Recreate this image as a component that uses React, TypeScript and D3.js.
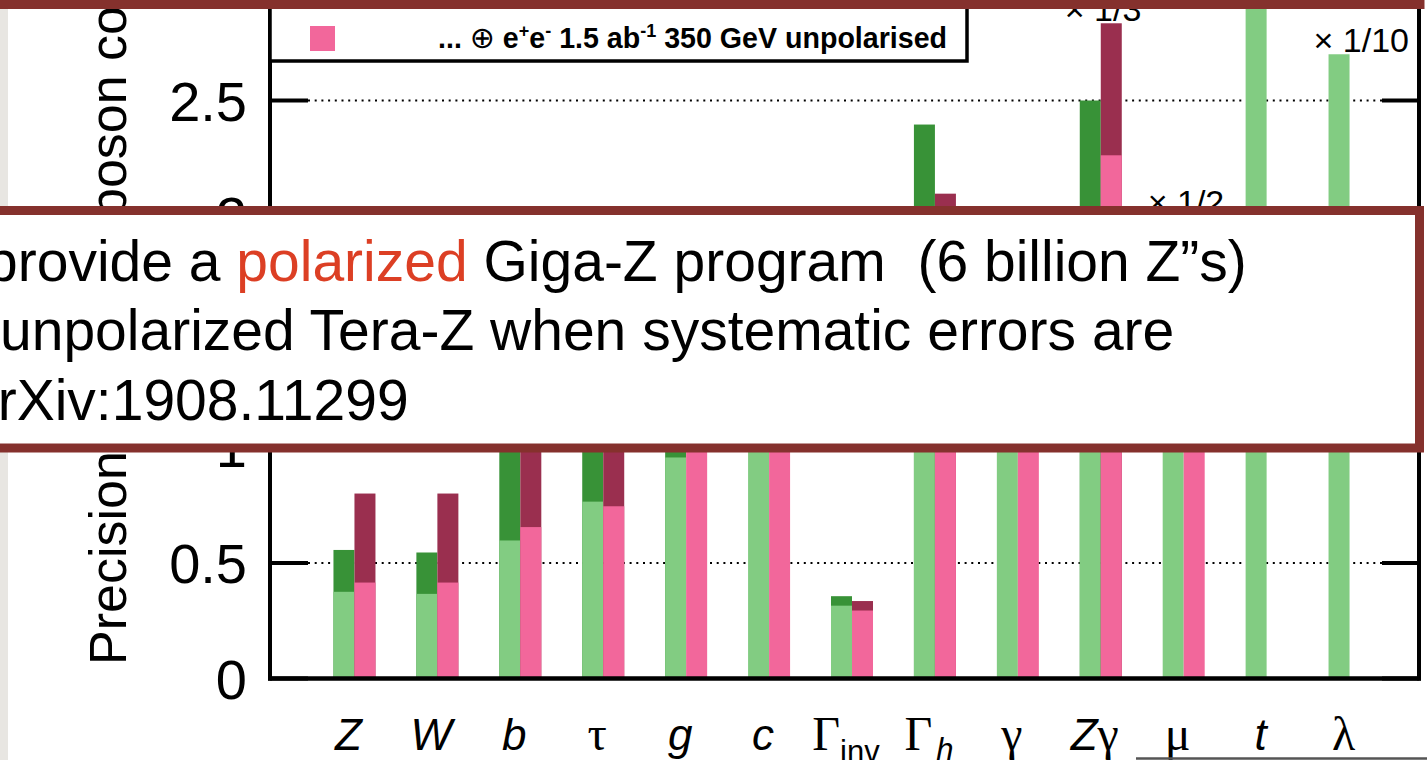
import React, { useEffect } from 'react';
import * as d3 from 'd3';

// ---------- data ----------
const categories = ['Z', 'W', 'b', 'tau', 'g', 'c', 'Ginv', 'Gh', 'gamma', 'Zgamma', 'mu', 't', 'lambda'];
// green series: statistical part (light) and total incl. systematics (dark)
const greenLight = [0.375, 0.366, 0.597, 0.765, 0.956, 1.3, 0.315, 1.6, 1.5, 1.8, 1.9, 3.2, 2.7];
const greenTotal = [0.556, 0.545, 1.35, 1.25, 1.05, null, 0.356, 2.396, null, 2.5, null, null, null];
// pink series
const pinkLight = [0.415, 0.415, 0.655, 0.745, 1.15, 1.45, 0.294, 1.7, 1.6, 2.263, 2.0, null, null];
const pinkTotal = [0.8, 0.8, 1.45, 1.35, null, null, 0.335, 2.097, null, 2.834, null, null, null];
const yTicks = [0, 0.5, 1, 1.5, 2, 2.5, 3];
const yTickLabels = ['0', '0.5', '1', '1.5', '2', '2.5', '3'];
const scaleNotes = [
  { cat: 'Zgamma', text: '× 1/3' },
  { cat: 'mu', text: '× 1/2' },
  { cat: 'lambda', text: '× 1/10' },
];
const yTitle = 'Precision on Higgs boson couplings (%)';
const legendLabel = { pre: '... ', oplus: '⊕', e1: ' e', s1: '+', e2: 'e', s2: '-', mid: ' 1.5 ab', s3: '-1', post: ' 350 GeV unpolarised' };
const boxLines = [
  { parts: [{ t: 'provide a ' }, { t: 'polarized', red: true }, { t: ' Giga-Z program  (6 billion Z”s)' }] },
  { parts: [{ t: 'unpolarized Tera-Z when systematic errors are' }] },
  { parts: [{ t: 'arXiv:1908.11299' }] },
];

// ---------- styles ----------
const C = {
  lightGreen: '#82cc82',
  darkGreen: '#389237',
  pink: '#f2679b',
  maroon: '#9a2f4f',
  frame: '#85312d',
  red: '#dc3f24',
  paper: '#e8e6e2',
};
const SANS = "'Liberation Sans', Arial, Helvetica, sans-serif";
const SERIF = "'Liberation Serif', 'Times New Roman', serif";

const W = 1427;
const H = 760;

function XLabel({ cat, x }: { cat: string; x: number }) {
  const y = 750;
  const it = { fontFamily: SANS, fontStyle: 'italic' as const, fontSize: 44 };
  const gr = { fontFamily: SERIF, fontSize: 48 };
  switch (cat) {
    case 'Z': return <text x={x} y={y} textAnchor="middle" {...it}>Z</text>;
    case 'W': return <text x={x} y={y} textAnchor="middle" {...it}>W</text>;
    case 'b': return <text x={x} y={y} textAnchor="middle" {...it}>b</text>;
    case 'tau': return <text x={x} y={y} textAnchor="middle" {...gr}>τ</text>;
    case 'g': return <text x={x} y={y} textAnchor="middle" {...it}>g</text>;
    case 'c': return <text x={x} y={y} textAnchor="middle" {...it}>c</text>;
    case 'Ginv':
      return (
        <text x={x} y={y} textAnchor="middle" {...gr}>
          Γ<tspan fontFamily={SANS} fontSize={31} dy={12}>inv</tspan>
        </text>
      );
    case 'Gh':
      return (
        <text x={x} y={y} textAnchor="middle" {...gr}>
          Γ<tspan fontFamily={SANS} fontStyle="italic" fontSize={31} dx={4} dy={10}>h</tspan>
        </text>
      );
    case 'gamma': return <text x={x} y={y} textAnchor="middle" {...gr}>γ</text>;
    case 'Zgamma':
      return (
        <text x={x} y={y} textAnchor="middle" {...it}>
          Z<tspan fontFamily={SERIF} fontStyle="normal" fontSize={48}>γ</tspan>
        </text>
      );
    case 'mu': return <text x={x} y={y} textAnchor="middle" {...gr}>μ</text>;
    case 't': return <text x={x} y={y} textAnchor="middle" {...it}>t</text>;
    case 'lambda': return <text x={x} y={y} textAnchor="middle" {...gr}>λ</text>;
    default: return null;
  }
}

export default function App() {
  useEffect(() => {
    document.body.style.margin = '0';
    document.body.style.overflow = 'hidden';
  }, []);

  const x = d3.scaleBand<string>().domain(categories).range([313, 1391]).padding(0);
  const y = d3.scaleLinear().domain([0, 2.5]).range([678.5, 100.5]);
  const center = (c: string) => (x(c) as number) + x.bandwidth() / 2;
  const barW = 21;
  const axL = 270;
  const axR = 1419;
  const axB = y(0);

  return (
    <svg width={W} height={H} style={{ position: 'absolute', left: 0, top: 0, display: 'block', background: '#fff' }}>
      <rect x={0} y={0} width={W} height={H} fill="#fff" />

      {/* dotted grid */}
      {yTicks.filter((t) => t > 0).map((t) => (
        <line key={'g' + t} x1={axL + 38} x2={axR - 37} y1={y(t)} y2={y(t)}
          stroke="#000" strokeWidth={2} strokeDasharray="2 4.7" />
      ))}

      {/* bars */}
      {categories.map((c, i) => {
        const cx = center(c);
        const els: React.ReactNode[] = [];
        const gT = greenTotal[i];
        if (gT != null) els.push(<rect key="gd" x={cx - barW} width={barW} y={y(gT)} height={axB - y(gT)} fill={C.darkGreen} />);
        const gL = greenLight[i];
        if (gL != null) els.push(<rect key="gl" x={cx - barW} width={barW} y={y(gL)} height={axB - y(gL)} fill={C.lightGreen} />);
        const pT = pinkTotal[i];
        if (pT != null) els.push(<rect key="pd" x={cx} width={barW} y={y(pT)} height={axB - y(pT)} fill={C.maroon} />);
        const pL = pinkLight[i];
        if (pL != null) els.push(<rect key="pl" x={cx} width={barW} y={y(pL)} height={axB - y(pL)} fill={C.pink} />);
        return <g key={c}>{els}</g>;
      })}

      {/* scale notes */}
      {scaleNotes.map((n) => {
        const i = categories.indexOf(n.cat);
        const top = Math.max(
          greenLight[i] ?? 0, greenTotal[i] ?? 0, pinkLight[i] ?? 0, pinkTotal[i] ?? 0
        );
        return (
          <text key={n.cat} x={center(n.cat) - 36} y={y(top) - 2} fontFamily={SANS} fontSize={34}>{n.text}</text>
        );
      })}

      {/* frame */}
      <line x1={axL} x2={axL} y1={-5} y2={axB + 2} stroke="#000" strokeWidth={4} />
      <line x1={axR} x2={axR} y1={-5} y2={axB + 2} stroke="#000" strokeWidth={4} />
      <line x1={axL - 2} x2={axR + 2} y1={axB} y2={axB} stroke="#000" strokeWidth={4.5} />
      {yTicks.map((t) => (
        <g key={'t' + t}>
          <line x1={axL} x2={axL + 38} y1={y(t)} y2={y(t)} stroke="#000" strokeWidth={4} />
          <line x1={axR - 37} x2={axR} y1={y(t)} y2={y(t)} stroke="#000" strokeWidth={4} />
        </g>
      ))}
      {yTicks.map((t, i) => (
        <text key={'l' + t} x={247} y={y(t) + 20} textAnchor="end" fontFamily={SANS} fontSize={56}>{yTickLabels[i]}</text>
      ))}

      {/* y title */}
      <text transform={`translate(126,665) rotate(-90)`} fontFamily={SANS} fontSize={52}>{yTitle}</text>

      {/* x labels */}
      {categories.map((c) => <XLabel key={'x' + c} cat={c} x={center(c) - 6} />)}

      {/* legend */}
      <rect x={axL} y={-60} width={697} height={121} fill="#fff" stroke="#000" strokeWidth={3.5} />
      <rect x={310} y={26} width={25} height={25} fill={C.pink} />
      <text x={438} y={48} fontFamily={SANS} fontWeight="bold" fontSize={28.6} style={{ whiteSpace: 'pre' }}>
        {legendLabel.pre}
        <tspan fontWeight="normal" fontFamily="'DejaVu Sans', sans-serif" fontSize={30}>{legendLabel.oplus}</tspan>
        {legendLabel.e1}
        <tspan fontSize={18} dy={-11}>{legendLabel.s1}</tspan>
        <tspan dy={11}>{legendLabel.e2}</tspan>
        <tspan fontSize={18} dy={-11}>{legendLabel.s2}</tspan>
        <tspan dy={11}>{legendLabel.mid}</tspan>
        <tspan fontSize={18} dy={-11}>{legendLabel.s3}</tspan>
        <tspan dy={11}>{legendLabel.post}</tspan>
      </text>

      {/* paper strip on the left */}
      <rect x={0} y={0} width={8} height={H} fill={C.paper} />

      {/* overlay text box */}
      <rect x={-20} y={210.5} width={1439.5} height={237.5} fill="#fff" stroke={C.frame} strokeWidth={9} />
      {boxLines.map((ln, i) => (
        <text key={'bl' + i} x={[-14, 0, -34][i]} y={[281, 350, 420][i]} fontFamily={SANS} fontSize={57} style={{ whiteSpace: 'pre' }}>
          {ln.parts.map((p, j) => (
            <tspan key={j} fill={(p as any).red ? C.red : '#000'}>{p.t}</tspan>
          ))}
        </text>
      ))}

      {/* top band (bottom of another box) */}
      <rect x={-20} y={-300} width={1440} height={304.5} fill="#fff" stroke={C.frame} strokeWidth={9} />

      {/* underline at bottom right */}
      <line x1={1136} x2={W} y1={758.5} y2={758.5} stroke="#555" strokeWidth={2.5} />
    </svg>
  );
}
